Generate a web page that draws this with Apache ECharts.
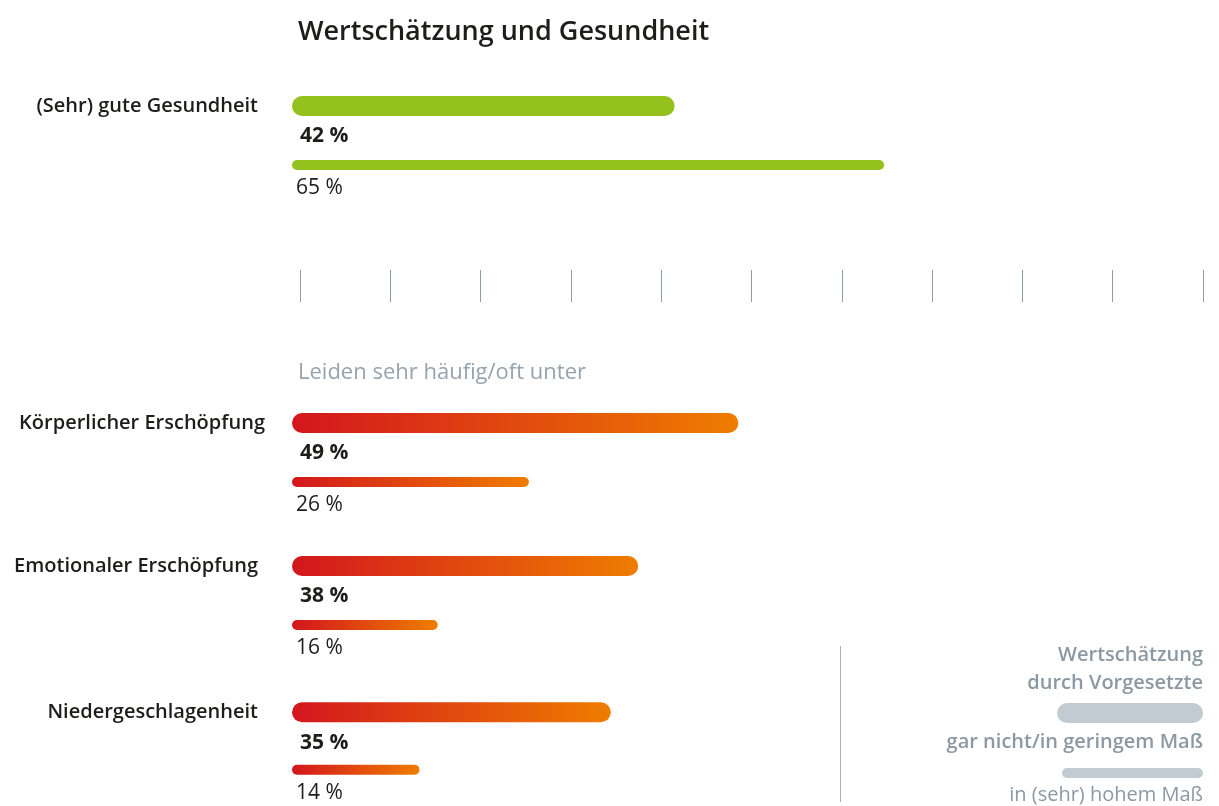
<!DOCTYPE html>
<html>
<head>
<meta charset="utf-8">
<script src="https://cdn.jsdelivr.net/npm/echarts@6/dist/echarts.min.js"></script>
<style>
  html, body { margin: 0; padding: 0; background: #fff; }
  #chart { width: 1219px; height: 806px; }
</style>
</head>
<body>
<div id="chart"></div>
<script>
const groups = ['(Sehr) gute Gesundheit', 'Körperlicher Erschöpfung', 'Emotionaler Erschöpfung', 'Niedergeschlagenheit'];
// Wertschätzung durch Vorgesetzte: gar nicht / in geringem Maß
const lowValues = [42, 49, 38, 35];
// Wertschätzung durch Vorgesetzte: in (sehr) hohem Maß
const highValues = [65, 26, 16, 14];
const axisMin = 0;
const axisMax = 100;
const axisStep = 10;

const FONT = '"Open Sans", sans-serif';
const textDark = '#1d1d1b';
const green = '#95c11f';
const redOrange = () => new echarts.graphic.LinearGradient(0, 0, 1, 0, [
    { offset: 0, color: '#d3161d' },
    { offset: 1, color: '#ef7d00' }
]);

// vertical layout of the four bar groups
const gridTops = [74, 391, 534, 681];
const labelMargins = [34, 27, 34, 34];

const chart = echarts.init(document.getElementById('chart'), null, { renderer: 'canvas' });

const grids = [];
const xAxes = [];
const yAxes = [];
const series = [];

// tick strip in the middle
grids.push({ left: 300, right: 16, top: 270, height: 32 });
xAxes.push({
    type: 'value', gridIndex: 0, min: axisMin, max: axisMax, interval: axisStep,
    axisLine: { show: false },
    axisTick: { show: true, inside: true, length: 32, lineStyle: { color: '#8d9cab', width: 1 } },
    axisLabel: { show: false },
    splitLine: { show: false }
});
yAxes.push({ type: 'value', gridIndex: 0, show: false });

groups.forEach((name, i) => {
    const g = i + 1;
    grids.push({ left: 292, right: 16, top: gridTops[i], height: 128 });
    xAxes.push({
        type: 'value', gridIndex: g, min: axisMin, max: axisMax, show: false
    });
    yAxes.push({
        type: 'category', gridIndex: g, inverse: true,
        data: [name, ''],
        axisLine: { show: false },
        axisTick: { show: false },
        axisLabel: {
            margin: labelMargins[i], color: textDark, fontFamily: FONT,
            fontSize: 20, fontWeight: 600
        }
    });
    // thin bar first, thick bar second: with barGap -100% the last one stays centred
    series.push({
        type: 'bar', xAxisIndex: g, yAxisIndex: g,
        data: ['-', highValues[i]],
        barWidth: 10, barGap: '-100%',
        itemStyle: { color: i === 0 ? green : redOrange(), borderRadius: 5 },
        label: {
            show: true, position: [4, 28.5], align: 'left', verticalAlign: 'middle',
            formatter: '{c} %', color: textDark, fontFamily: FONT, fontSize: 21
        },
        silent: true
    });
    series.push({
        type: 'bar', xAxisIndex: g, yAxisIndex: g,
        data: [lowValues[i], '-'],
        barWidth: 20, barGap: '-100%',
        itemStyle: { color: i === 0 ? green : redOrange(), borderRadius: 10 },
        label: {
            show: true, position: [8, 40.5], align: 'left', verticalAlign: 'middle',
            formatter: '{c} %', color: textDark, fontFamily: FONT, fontSize: 21, fontWeight: 700
        },
        silent: true
    });
});

const legendGray = '#8c99a4';
const legendBar = '#c2cbd2';
const legendText = (text, y, weight) => ({
    type: 'text',
    style: {
        text: text, x: 1203, y: y, align: 'right', verticalAlign: 'middle',
        fill: legendGray, font: weight + ' 20px ' + FONT
    }
});

chart.setOption({
    animation: false,
    title: {
        text: 'Wertschätzung und Gesundheit',
        left: 298, top: 19, padding: 0,
        textStyle: { fontFamily: FONT, fontSize: 27, fontWeight: 600, color: textDark }
    },
    grid: grids,
    xAxis: xAxes,
    yAxis: yAxes,
    series: series,
    graphic: [
        {
            type: 'text',
            style: {
                text: 'Leiden sehr häufig/oft unter', x: 298, y: 373, verticalAlign: 'middle',
                fill: '#97a3ad', font: '22px ' + FONT
            }
        },
        {
            type: 'line', shape: { x1: 840.5, y1: 646, x2: 840.5, y2: 802 },
            style: { stroke: '#a7b1ba', lineWidth: 1 }
        },
        legendText('Wertschätzung', 655, 600),
        legendText('durch Vorgesetzte', 683, 600),
        {
            type: 'rect', shape: { x: 1057, y: 703, width: 146, height: 20, r: 10 },
            style: { fill: legendBar }
        },
        legendText('gar nicht/in geringem Maß', 742, 600),
        {
            type: 'rect', shape: { x: 1062, y: 768, width: 141, height: 10, r: 5 },
            style: { fill: legendBar }
        },
        legendText('in (sehr) hohem Maß', 795, 400)
    ]
});

window.onresize = function () {
    chart.resize();
};
</script>
</body>
</html>
